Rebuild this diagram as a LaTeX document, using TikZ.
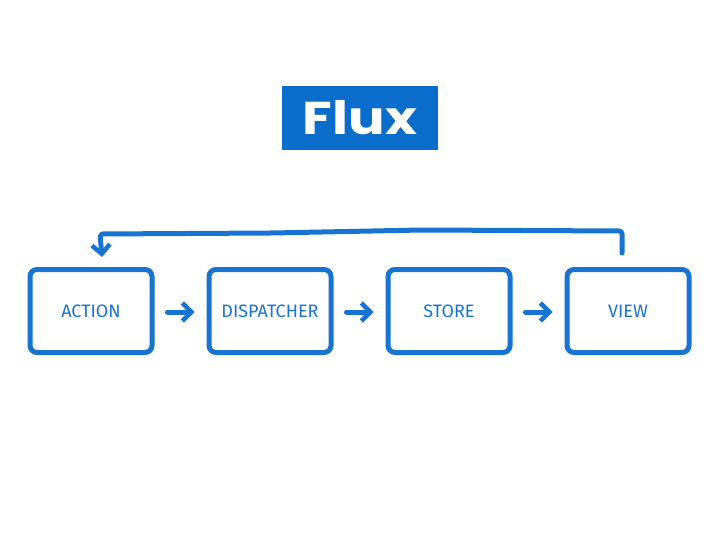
\documentclass[tikz,border=0pt]{standalone}
\usepackage{fontspec}
\setmainfont{Fira Sans}
\newfontfamily\titlefont{Poppins}
\usetikzlibrary{arrows.meta}
\definecolor{fluxblue}{HTML}{0A6CCB}
\definecolor{linkblue}{HTML}{1874D2}
\tikzset{
  fluxbox/.style={draw=linkblue, line width=5pt, rounded corners=7pt, minimum width=122pt, minimum height=83pt, text=linkblue, font=\fontsize{18}{20}\selectfont},
  flow/.style={draw=linkblue, line width=5pt, line cap=round, line join=round, -{Straight Barb[length=9pt,width=18pt,line width=4.5pt]}},
}
\begin{document}
\begin{tikzpicture}[x=1pt,y=-1pt]
\useasboundingbox (0,0) rectangle (720,540);
\node[fill=fluxblue, minimum width=156pt, minimum height=64pt, inner sep=0pt, text=white, font=\titlefont\bfseries\fontsize{46}{46}\selectfont] (title) at (360,118) {\scalebox{1.18}[1]{Flux}};
\node[fluxbox] (action) at (91,311) {ACTION};
\node[fluxbox] (disp) at (270,311) {DISPATCHER};
\node[fluxbox] (store) at (449,311) {STORE};
\node[fluxbox] (view) at (628,311) {VIEW};
\draw[flow] ([xshift=13pt,yshift=-1pt]action.east) -- ([xshift=-12pt,yshift=-1pt]disp.west);
\draw[flow] ([xshift=13pt,yshift=-1pt]disp.east) -- ([xshift=-12pt,yshift=-1pt]store.west);
\draw[flow] ([xshift=13pt,yshift=-1pt]store.east) -- ([xshift=-12pt,yshift=-1pt]view.west);
\draw[flow, rounded corners=3pt] ([xshift=-6pt,yshift=14pt]view.north) coordinate (v0) -- ++(0,-22) -- ++(-200,-1) -- ++(-150,3) -- ++(-172,1) -- ([xshift=11pt,yshift=10pt]action.north);
\end{tikzpicture}
\end{document}
